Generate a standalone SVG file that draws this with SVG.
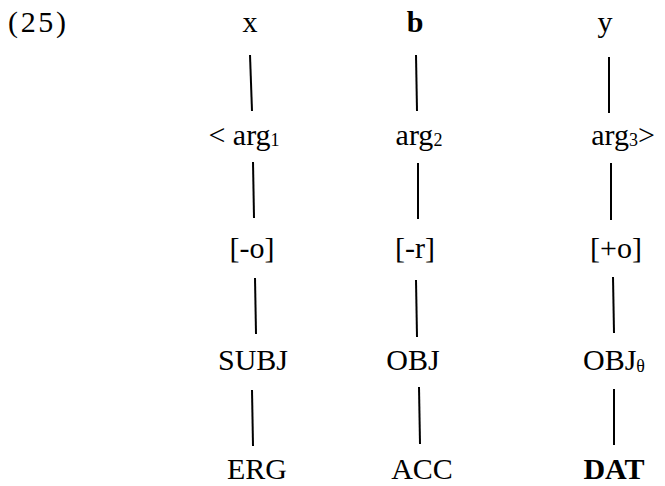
<svg xmlns="http://www.w3.org/2000/svg" width="665" height="486" viewBox="0 0 665 486">
<style>
text{font-family:"Liberation Serif","Times New Roman",serif;font-size:30px;fill:#000;text-anchor:middle}
.b{font-weight:bold}
.sub{font-size:18px}
.conn line{stroke:#000;stroke-width:2;stroke-linecap:butt}
</style>
<rect width="665" height="486" fill="#fff"/>
<text x="8" y="32" style="text-anchor:start" textLength="58">(25)</text>
<g class="conn" id="connectors">
<line x1="250" y1="55" x2="252" y2="111"/>
<line x1="253" y1="162" x2="254" y2="218"/>
<line x1="255" y1="278" x2="256" y2="334"/>
<line x1="252" y1="390" x2="253" y2="446"/>
<line x1="416" y1="55" x2="417" y2="111"/>
<line x1="418" y1="163" x2="418" y2="219"/>
<line x1="416" y1="280" x2="417" y2="337"/>
<line x1="419" y1="387" x2="420" y2="444"/>
<line x1="609" y1="57" x2="609" y2="113"/>
<line x1="611" y1="163" x2="611" y2="220"/>
<line x1="613" y1="277" x2="614" y2="333"/>
<line x1="614" y1="389" x2="614" y2="445"/>
</g>
<g id="n-x"><text x="250" y="32">x</text></g>
<g id="n-b"><text x="415" y="32" class="b">b</text></g>
<g id="n-y"><text x="605" y="32">y</text></g>
<g id="n-arg1"><text x="244" y="145">&lt; arg<tspan class="sub" dy="1">1</tspan></text></g>
<g id="n-arg2"><text x="419" y="145">arg<tspan class="sub" dy="1">2</tspan></text></g>
<g id="n-arg3"><text x="623" y="145">arg<tspan class="sub" dy="1">3</tspan><tspan dy="-1">&gt;</tspan></text></g>
<g id="n-o1"><text x="252" y="258">[-o]</text></g>
<g id="n-r"><text x="415" y="258">[-r]</text></g>
<g id="n-o2"><text x="616" y="258">[+o]</text></g>
<g id="n-subj"><text x="253" y="370">SUBJ</text></g>
<g id="n-obj"><text x="413" y="370">OBJ</text></g>
<g id="n-objt"><text x="614" y="370">OBJ<tspan class="sub" dy="2">θ</tspan></text></g>
<g id="n-erg"><text x="257" y="479">ERG</text></g>
<g id="n-acc"><text x="422" y="479">ACC</text></g>
<g id="n-dat"><text x="614" y="479" class="b">DAT</text></g>
</svg>
